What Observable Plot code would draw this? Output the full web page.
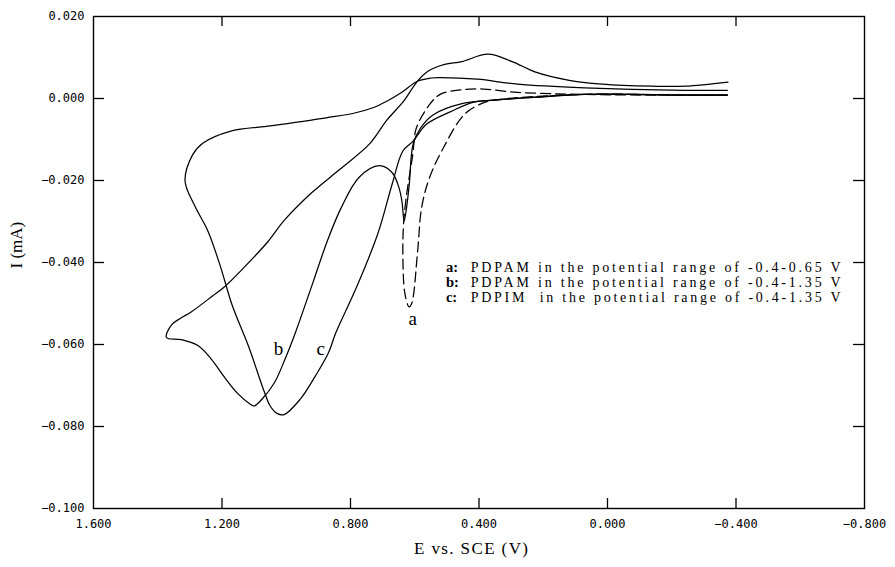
<!DOCTYPE html>
<html><head><meta charset="utf-8">
<script src="https://cdn.jsdelivr.net/npm/d3@7"></script>
<script src="https://cdn.jsdelivr.net/npm/@observablehq/plot@0.6"></script>
<style>
html,body{margin:0;padding:0;background:#fff;}
#chart svg{display:block;background:#fff;}
</style>
</head><body><div id="chart"></div>
<script>
// ---- data (E in V, I in mA) ----
const xTicks = [1.6, 1.2, 0.8, 0.4, 0, -0.4, -0.8];
const yTicks = [0.02, 0, -0.02, -0.04, -0.06, -0.08, -0.1];

// curve a: PDPAM, -0.4 .. 0.65 V (dashed)
const aE = [-0.373, -0.239, 0.072, 0.353, 0.394, 0.447, 0.512, 0.555, 0.579, 0.591, 0.610, 0.618, 0.631, 0.636, 0.636, 0.628, 0.606, 0.595, 0.553, 0.521, 0.458, 0.386, 0.281, 0.072, -0.239, -0.373];
const aI = [0.0008, 0.0008, 0.0010, -0.0004, -0.0013, -0.0040, -0.0122, -0.0195, -0.0268, -0.0372, -0.0501, -0.0508, -0.0474, -0.0421, -0.0323, -0.0250, -0.0136, -0.0072, -0.0014, 0.0010, 0.0021, 0.0023, 0.0015, 0.0010, 0.0008, 0.0008];

// curve b: PDPAM, -0.4 .. 1.35 V
const bE = [-0.373, -0.239, 0.072, 0.197, 0.353, 0.456, 0.541, 0.582, 0.605, 0.617, 0.625, 0.633, 0.640, 0.649, 0.670, 0.710, 0.773, 0.828, 0.871, 0.917, 0.971, 1.004, 1.036, 1.075, 1.100, 1.113, 1.153, 1.192, 1.234, 1.274, 1.327, 1.373, 1.357, 1.329, 1.295, 1.230, 1.192, 1.135, 1.058, 1.007, 0.921, 0.835, 0.740, 0.688, 0.634, 0.592, 0.560, 0.507, 0.454, 0.372, 0.297, 0.226, 0.123, 0.017, -0.139, -0.242, -0.375];
const bI = [0.0009, 0.0009, 0.0010, 0.0004, -0.0004, -0.0013, -0.0039, -0.0072, -0.0111, -0.0209, -0.0263, -0.0299, -0.0250, -0.0218, -0.0181, -0.0164, -0.0192, -0.0265, -0.0345, -0.0449, -0.0570, -0.0636, -0.0692, -0.0733, -0.0750, -0.0745, -0.0718, -0.0680, -0.0635, -0.0603, -0.0588, -0.0583, -0.0552, -0.0536, -0.0520, -0.0482, -0.0459, -0.0415, -0.0350, -0.0298, -0.0230, -0.0174, -0.0110, -0.0054, -0.0006, 0.0042, 0.0066, 0.0083, 0.0090, 0.0108, 0.0090, 0.0065, 0.0045, 0.0035, 0.0030, 0.0030, 0.0040];

// curve c: PDPIM, -0.4 .. 1.35 V
const cE = [-0.373, -0.239, 0.072, 0.353, 0.416, 0.488, 0.564, 0.605, 0.637, 0.670, 0.715, 0.781, 0.846, 0.869, 0.911, 0.957, 1.007, 1.029, 1.050, 1.068, 1.118, 1.168, 1.206, 1.244, 1.286, 1.315, 1.292, 1.260, 1.175, 1.050, 0.947, 0.876, 0.790, 0.728, 0.690, 0.640, 0.592, 0.550, 0.517, 0.405, 0.280, 0.071, -0.241, -0.373];
const cI = [0.0008, 0.0008, 0.0010, -0.0004, -0.0009, -0.0032, -0.0063, -0.0104, -0.0128, -0.0208, -0.0330, -0.0460, -0.0572, -0.0621, -0.0679, -0.0734, -0.0771, -0.0768, -0.0750, -0.0716, -0.0603, -0.0505, -0.0407, -0.0323, -0.0260, -0.0201, -0.0138, -0.0109, -0.0080, -0.0067, -0.0056, -0.0047, -0.0036, -0.0022, -0.0008, 0.0015, 0.0042, 0.0050, 0.0051, 0.0047, 0.0035, 0.0026, 0.0020, 0.0020];

const curveNames = ["a", "b", "c"];
const legendKeys = ["a:", "b:", "c:"];
const legendTexts = [
  "PDPAM in the potential range of -0.4-0.65 V",
  "PDPAM in the potential range of -0.4-1.35 V",
  "PDPIM\u00a0 in the potential range of -0.4-1.35 V"
];
const xTitle = "E vs. SCE (V)";
const yTitle = "I (mA)";

// ---- build tables ----
const rows = (E, I) => E.map((e, i) => ({E: e, I: I[i]}));
const aRows = rows(aE, aI), bRows = rows(bE, bI), cRows = rows(cE, cI);

const W = 895, H = 567, mL = 93, mR = 31, mT = 16, mB = 59;
const innerW = W - mL - mR, innerH = H - mT - mB;
const inner = (arr) => arr.slice(1, -1);

const lineOpts = {x: "E", y: "I", stroke: "black", strokeWidth: 1.25, curve: "catmull-rom"};
const serif = "Liberation Serif, Times New Roman, serif";
const mono = "DejaVu Sans Mono, monospace";

const chart = Plot.plot({
  width: W, height: H,
  marginLeft: mL, marginRight: mR, marginTop: mT, marginBottom: mB,
  style: {background: "#fff", color: "black"},
  x: {domain: [1.6, -0.8], label: null},
  y: {domain: [-0.1, 0.02], label: null},
  marks: [
    Plot.frame({stroke: "black", strokeWidth: 1.4}),
    Plot.tickX(inner(xTicks), {x: d => d, insetTop: innerH - 10, stroke: "black", strokeWidth: 1.3}),
    Plot.tickX(inner(xTicks), {x: d => d, insetBottom: innerH - 10, stroke: "black", strokeWidth: 1.3}),
    Plot.tickY(inner(yTicks), {y: d => d, insetRight: innerW - 11, stroke: "black", strokeWidth: 1.3}),
    Plot.tickY(inner(yTicks), {y: d => d, insetLeft: innerW - 11, stroke: "black", strokeWidth: 1.3}),
    Plot.axisX(xTicks, {anchor: "bottom", tickSize: 0, tickPadding: 11, label: null, tickFormat: d3.format(".3f"), fontFamily: mono, fontSize: 12, fill: "black"}),
    Plot.axisY(yTicks, {anchor: "left", tickSize: 0, tickPadding: 9, label: null, tickFormat: d3.format(".3f"), fontFamily: mono, fontSize: 12, fill: "black"}),
    Plot.line(aRows, {...lineOpts, strokeDasharray: "10,5"}),
    Plot.line(bRows, lineOpts),
    Plot.line(cRows, lineOpts),
    // curve labels
    Plot.text(curveNames, {
      x: (d, i) => [0.606, 1.024, 0.893][i],
      y: (d, i) => [-0.0537, -0.061, -0.061][i],
      text: d => d, fontFamily: serif, fontSize: 19, fill: "black"
    }),
    // legend keys
    Plot.text(legendKeys, {
      x: () => 0.503, y: (d, i) => -0.0412 - i * 0.00365,
      text: d => d, textAnchor: "start", fontFamily: serif, fontSize: 14.5, fontWeight: "bold", fill: "black"
    }),
    // legend descriptions
    Plot.text(legendTexts, {
      x: () => 0.426, y: (d, i) => -0.0412 - i * 0.00365,
      text: d => d, textAnchor: "start", fontFamily: serif, fontSize: 14, fill: "black"
    }),
    // axis titles
    Plot.text([xTitle], {frameAnchor: "bottom", dx: -8, dy: 45, text: d => d, fontFamily: serif, fontSize: 17, fill: "black"}),
    Plot.text([yTitle], {frameAnchor: "left", dx: -77, dy: 6, rotate: -90, text: d => d, fontFamily: serif, fontSize: 17, fill: "black"})
  ]
});

document.getElementById("chart").appendChild(chart);
// stretch legend descriptions and x title to the widths seen in the reference
chart.querySelectorAll("text").forEach(t => {
  const s = t.textContent;
  if (legendTexts.includes(s)) {
    t.setAttribute("textLength", 370);
    t.setAttribute("lengthAdjust", "spacing");
  } else if (s === xTitle) {
    t.setAttribute("textLength", 114);
    t.setAttribute("lengthAdjust", "spacing");
  }
});
</script>
</body></html>
